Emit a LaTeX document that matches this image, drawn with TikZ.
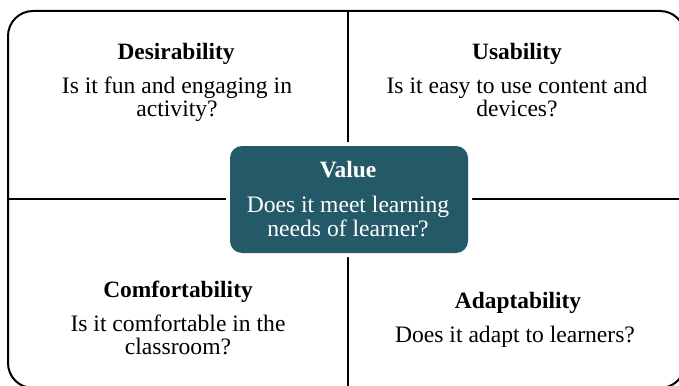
\documentclass[tikz,border=0pt]{standalone}
\usepackage{fontspec}
\setmainfont{Liberation Serif}
\definecolor{valueteal}{RGB}{36,90,103}
\tikzset{
  x=1pt, y=-1pt,
  frameline/.style={line width=2pt, black},
  ttl/.style={anchor=base, inner sep=0pt, font=\fontsize{23.4}{24}\selectfont\bfseries},
  bdy/.style={anchor=base, inner sep=0pt, font=\fontsize{23.6}{24}\selectfont},
  valuebox/.style={fill=valueteal, rounded corners=12pt, preaction={draw=white, line width=8pt, rounded corners=12pt}}
}
\begin{document}
\begin{tikzpicture}
\useasboundingbox (0,0) rectangle (679,385);
\clip (0,0) rectangle (679,385);
\fill[white] (0,0) rectangle (679,385);
% outer frame
\draw[frameline, rounded corners=25pt] (8,11) rectangle (685,388);
% quadrant dividers
\coordinate (vt) at (348,11);
\coordinate (vb) at (348,388);
\coordinate (hl) at (8,199);
\coordinate (hr) at (685,199);
\draw[frameline] (vt) -- (vb);
\draw[frameline] (hl) -- (hr);
% central box
\path[valuebox] (230,146) rectangle (468,253);
\node[ttl, text=white] (vt1) at (348,177) {Value};
\node[bdy, text=white] (vb1) at (348,212) {Does it meet learning};
\node[bdy, text=white] (vb2) at (348,236) {needs of learner?};
% Desirability
\node[ttl] (dt) at (176,60) {Desirability};
\node[bdy] (db1) at (177,94) {Is it fun and engaging in};
\node[bdy] (db2) at (177,117) {activity?};
% Usability
\node[ttl] (ut) at (517,60) {Usability};
\node[bdy] (ub1) at (517,94) {Is it easy to use content and};
\node[bdy] (ub2) at (517,117) {devices?};
% Comfortability
\node[ttl] (ct) at (178,297) {Comfortability};
\node[bdy] (cb1) at (178,331) {Is it comfortable in the};
\node[bdy] (cb2) at (178,354) {classroom?};
% Adaptability
\node[ttl] (at) at (518,308) {Adaptability};
\node[bdy] (ab1) at (515,342) {Does it adapt to learners?};
\end{tikzpicture}
\end{document}
